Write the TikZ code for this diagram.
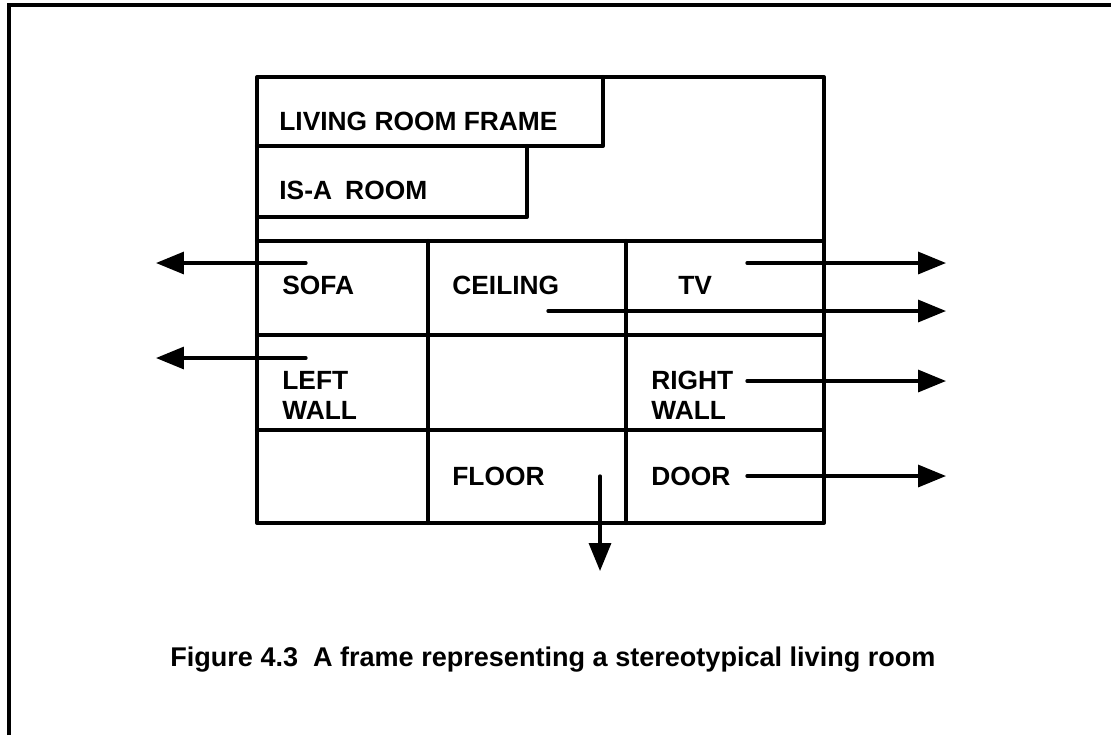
\documentclass[tikz,border=0pt]{standalone}
\usepackage{fontspec}
\setmainfont{Liberation Sans}
\usepackage{tikz}
\usetikzlibrary{arrows.meta, positioning}

\begin{document}
\begin{tikzpicture}[x=0.02cm, y=-0.02cm,
    slot/.style={anchor=west, inner sep=0pt, align=left,
      font=\bfseries\fontsize{15}{17}\selectfont},
    grid/.style={line width=2.3pt, line cap=round, line join=round},
    arr/.style={line width=1.9pt, line cap=round,
      -{Triangle[length=0.56cm, width=0.44cm]}}]
    \useasboundingbox (0,0) rectangle (1111,735);
    % outer frame
    \draw[line width=2.4pt] (9,735) -- (9,5) -- (1111,5);
    % frame box
    \draw[grid] (257,77) rectangle (824,523);
    \draw[grid] (257,146) -- (603,146) -- (603,77);
    \draw[grid] (257,217) -- (527,217) -- (527,146);
    \draw[grid] (257,241) -- (824,241);
    \draw[grid] (257,335) -- (824,335);
    \draw[grid] (257,430) -- (824,430);
    \draw[grid] (428,241) -- (428,523);
    \draw[grid] (626,241) -- (626,523);
    % slot names
    \node[slot] (name) at (279,121) {LIVING ROOM FRAME};
    \node[slot] (isa) at (279,190) {IS-A\enspace ROOM};
    \node[slot] (sofa) at (282,285) {SOFA};
    \node[slot] (ceiling) at (452,285) {CEILING};
    \node[slot] (tv) at (678,285) {TV};
    \node[slot] (lwall) at (282,395) {LEFT\\WALL};
    \node[slot] (rwall) at (651,395) {RIGHT\\WALL};
    \node[slot] (floor) at (452,476) {FLOOR};
    \node[slot] (door) at (651,476) {DOOR};
    % pointers to other frames
    \coordinate (sofa out) at (306,263);
    \coordinate (sofa end) at (156,263);
    \coordinate (ceiling out) at (548,311);
    \coordinate (ceiling end) at (946,311);
    \coordinate (tv out) at (747,263);
    \coordinate (tv end) at (946,263);
    \coordinate (lwall out) at (306,358);
    \coordinate (lwall end) at (156,358);
    \coordinate (rwall out) at (747,381);
    \coordinate (rwall end) at (946,381);
    \coordinate (floor out) at (600,476);
    \coordinate (floor end) at (600,571);
    \coordinate (door out) at (747,476);
    \coordinate (door end) at (946,476);
    \draw[arr] (sofa out) -- (sofa end);
    \draw[arr] (ceiling out) -- (ceiling end);
    \draw[arr] (tv out) -- (tv end);
    \draw[arr] (lwall out) -- (lwall end);
    \draw[arr] (rwall out) -- (rwall end);
    \draw[arr] (floor out) -- (floor end);
    \draw[arr] (door out) -- (door end);
    % caption
    \node[slot, font=\bfseries\fontsize{15.4}{17}\selectfont] (caption) at (170,660)
      {Figure 4.3\hspace{0.55em}A frame representing a stereotypical living room};
\end{tikzpicture}
\end{document}
